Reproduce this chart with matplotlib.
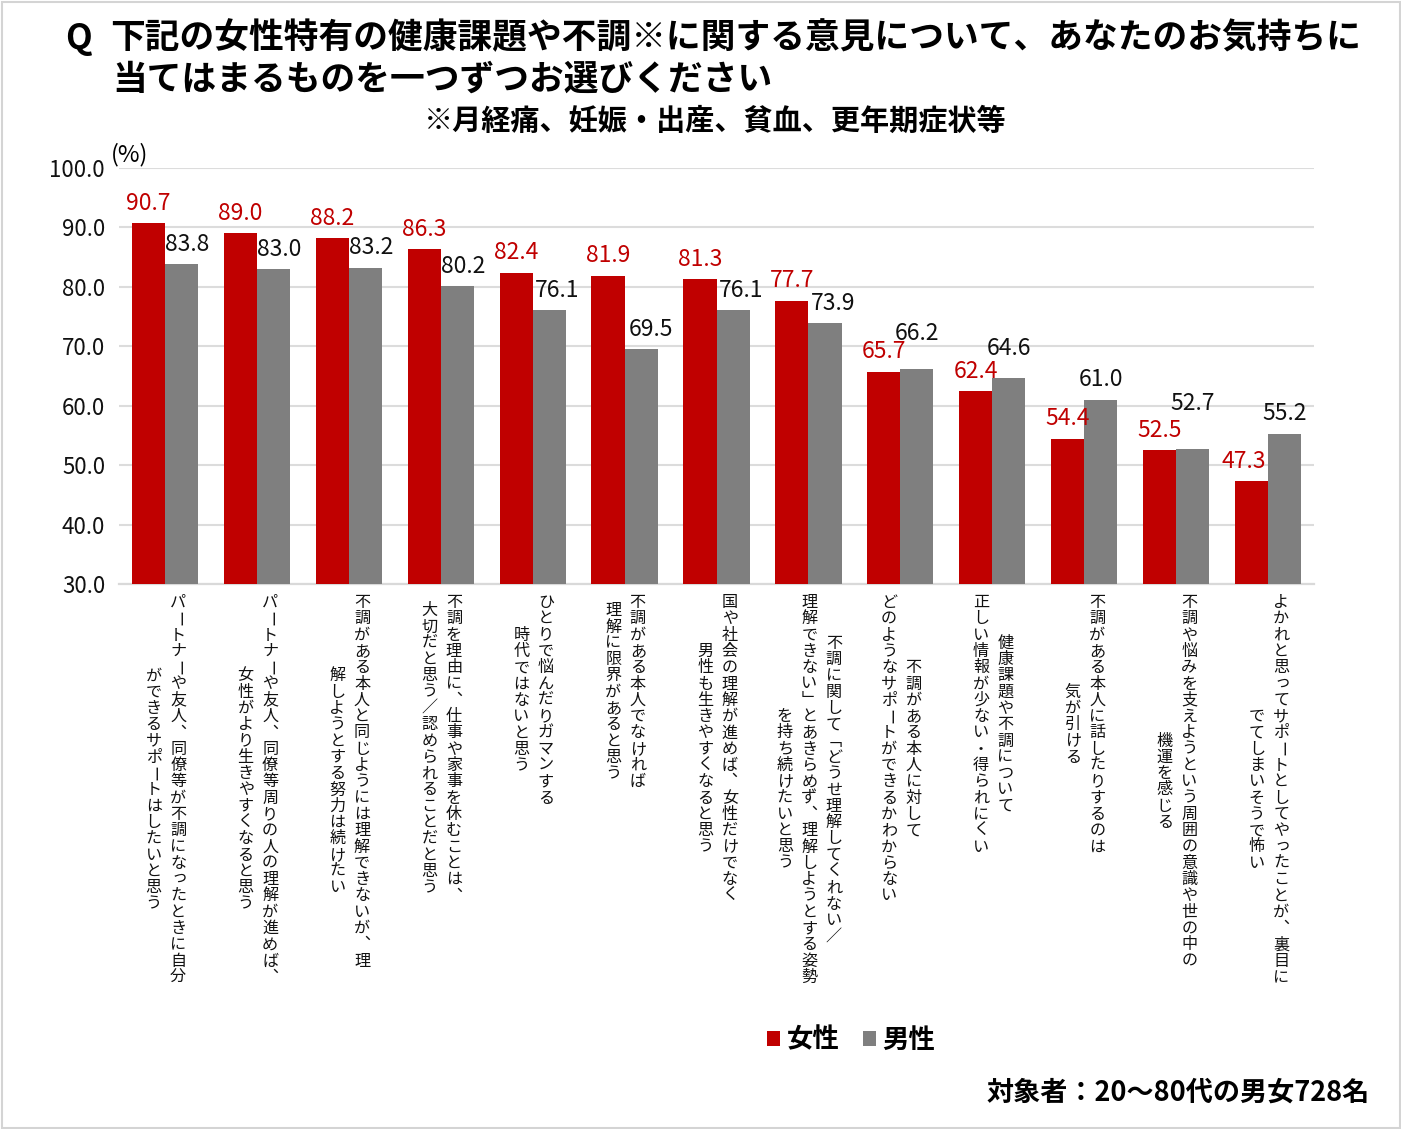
import matplotlib
matplotlib.use("Agg")
import matplotlib.pyplot as plt
import matplotlib.transforms as mtrans
import matplotlib.patches as mpatches
import numpy as np

plt.rcParams['font.family'] = ['Noto Sans CJK JP', 'DejaVu Sans']

# values (%)
female = [90.7, 89.0, 88.2, 86.3, 82.4, 81.9, 81.3, 77.7, 65.7, 62.4, 54.4, 52.5, 47.3]
male = [83.8, 83.0, 83.2, 80.2, 76.1, 69.5, 76.1, 73.9, 66.2, 64.6, 61.0, 52.7, 55.2]
series_names = ['女性', '男性']
yticks = [30, 40, 50, 60, 70, 80, 90, 100]

# category labels, one entry per vertical column (right to left)
categories = [
    ["パートナーや友人、同僚等が不調になったときに自分", "ができるサポートはしたいと思う"],
    ["パートナーや友人、同僚等周りの人の理解が進めば、", "女性がより生きやすくなると思う"],
    ["不調がある本人と同じようには理解できないが、理", "解しようとする努力は続けたい"],
    ["不調を理由に、仕事や家事を休むことは、", "大切だと思う／認められることだと思う"],
    ["ひとりで悩んだりガマンする", "時代ではないと思う"],
    ["不調がある本人でなければ", "理解に限界があると思う"],
    ["国や社会の理解が進めば、女性だけでなく", "男性も生きやすくなると思う"],
    ["不調に関して「どうせ理解してくれない／", "理解できない」とあきらめず、理解しようとする姿勢",
     "を持ち続けたいと思う"],
    ["不調がある本人に対して", "どのようなサポートができるかわからない"],
    ["健康課題や不調について", "正しい情報が少ない・得られにくい"],
    ["不調がある本人に話したりするのは", "気が引ける"],
    ["不調や悩みを支えようという周囲の意識や世の中の", "機運を感じる"],
    ["よかれと思ってサポートとしてやったことが、裏目に", "でてしまいそうで怖い"],
]

W, H = 1401, 1129
RED, GREY = '#c00000', '#7f7f7f'

fig = plt.figure(figsize=(W / 100, H / 100), dpi=100)
ax = fig.add_axes([119 / W, 1 - 584 / H, 1195 / W, 416 / H])

x = np.arange(len(female))
bw = 0.36
bars_f = ax.bar(x - bw / 2, female, bw, color=RED, label=series_names[0], zorder=3)
bars_m = ax.bar(x + bw / 2, male, bw, color=GREY, label=series_names[1], zorder=3)

ax.set_xlim(-0.5, len(female) - 0.5)
ax.set_ylim(30, 100)
ax.set_yticks(yticks)
ax.set_yticklabels([f'{v:.1f}' for v in yticks], fontsize=16, color='#111111')
ax.set_xticks([])
ax.tick_params(axis='y', length=0, pad=10)
ax.yaxis.grid(True, color='#dcdcdc', lw=1.5, zorder=0)
ax.set_axisbelow(True)
for s in ['top', 'right', 'left']:
    ax.spines[s].set_visible(False)
ax.spines['bottom'].set_color('#d9d9d9')
ax.spines['bottom'].set_linewidth(1.6)

# value labels (pixel offsets above the bar tops)
f_dx = [0] * 12 + [-8]
f_dy = [20] * 13
m_dx = [6, 6, 6, 6, 8, 10, 8, 8, 0, 0, 0, 0, 0]
m_dy = [20, 20, 20, 19, 20, 20, 20, 20, 35, 30, 20, 46, 21]
for i, r in enumerate(bars_f):
    ax.annotate(f'{female[i]:.1f}', (r.get_x() + r.get_width() / 2, r.get_height()),
                xytext=(f_dx[i], f_dy[i]), textcoords='offset pixels',
                ha='center', va='center', fontsize=16.5, color=RED)
for i, r in enumerate(bars_m):
    ax.annotate(f'{male[i]:.1f}', (r.get_x() + r.get_width() / 2, r.get_height()),
                xytext=(m_dx[i], m_dy[i]), textcoords='offset pixels',
                ha='center', va='center', fontsize=16.5, color='#111111')

# vertical (tategaki) category labels
tr = mtrans.blended_transform_factory(ax.transData, fig.transFigure)
unit = 1195 / len(female)
fs = 11.6
fs_px = fs * 100 / 72
step = 16.3
col_gap = 24.5
small = set('ぁぃぅぇぉっゃゅょゎァィゥェォッャュョ')
vert_forms = {'「': '\ufe41', '」': '\ufe42', '、': '\ufe11'}
for i, cols in enumerate(categories):
    n = max(len(c) for c in cols)
    for j, col in enumerate(cols):
        xoff = col_gap * ((len(cols) - 1) / 2 - j) + 1
        ytop = 602.5 + (n - len(col)) / 2 * step
        for k, ch in enumerate(col):
            px, py = xoff, ytop + k * step
            kw = {}
            if ch == 'ー':
                kw = dict(rotation=-90, rotation_mode='anchor')
            if ch in small:
                px += 0.1 * fs_px
                py -= 0.12 * fs_px
            ax.text(i + px / unit, 1 - py / H, vert_forms.get(ch, ch), transform=tr,
                    ha='center', va='center', fontsize=fs, color='#111111', **kw)

# titles
fig.text(65 / W, 1 - 38 / H, 'Q', fontsize=25, fontweight='bold', va='center')
fig.text(110 / W, 1 - 38 / H, '下記の女性特有の健康課題や不調※に関する意見について、あなたのお気持ちに',
         fontsize=25, fontweight='bold', va='center')
fig.text(112 / W, 1 - 79 / H, '当てはまるものを一つずつお選びください',
         fontsize=25, fontweight='bold', va='center')
fig.text(715 / W, 1 - 121 / H, '※月経痛、妊娠・出産、貧血、更年期症状等',
         fontsize=21, fontweight='bold', va='center', ha='center')
fig.text(130 / W, 1 - 155 / H, '(%)', fontsize=17, va='center', ha='center')

handles, labels = ax.get_legend_handles_labels()
fig.legend(handles, labels, loc='center', bbox_to_anchor=(851 / W, 1 - 1040 / H),
           ncol=2, frameon=False, handlelength=0.5, handleheight=0.5,
           handletextpad=0.25, columnspacing=0.9,
           prop={'size': 19, 'weight': 'bold'})

fig.text(1370 / W, 1 - 1093 / H, '対象者：20～80代の男女728名', fontsize=19.5,
         fontweight='bold', ha='right', va='center')

fig.patches.append(mpatches.Rectangle((1.5 / W, 1.5 / H), (W - 3) / W, (H - 3) / H,
                                      transform=fig.transFigure, fill=False,
                                      edgecolor='#d4d4d4', lw=1.5))

fig.savefig('out.png', dpi=100)
